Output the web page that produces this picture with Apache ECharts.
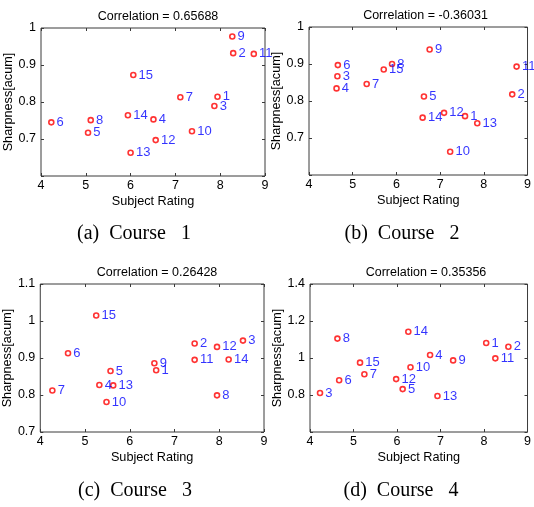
<!DOCTYPE html>
<html>
<head>
<meta charset="utf-8">
<script src="https://cdn.jsdelivr.net/npm/echarts@6/dist/echarts.min.js"></script>
<style>html,body{margin:0;padding:0;background:#fff;}#c{width:534px;height:507px;}</style>
</head>
<body>
<div id="c"></div>
<script>
// Point ids (same order for each course's x/y arrays)
var c1Ids = [9, 2, 11, 15, 7, 1, 3, 6, 8, 14, 4, 5, 10, 12, 13];
var c1X = [8.27, 8.29, 8.75, 6.06, 7.11, 7.94, 7.87, 4.23, 5.11, 5.94, 6.51, 5.05, 7.37, 6.56, 6.00];
var c1Y = [0.977, 0.932, 0.930, 0.873, 0.813, 0.814, 0.789, 0.745, 0.751, 0.764, 0.753, 0.717, 0.721, 0.697, 0.663];

var c2Ids = [9, 6, 3, 4, 8, 15, 7, 11, 2, 5, 12, 1, 13, 14, 10];
var c2X = [6.76, 4.66, 4.65, 4.63, 5.90, 5.71, 5.32, 8.75, 8.65, 6.63, 7.09, 7.57, 7.85, 6.60, 7.23];
var c2Y = [0.939, 0.897, 0.867, 0.834, 0.900, 0.885, 0.846, 0.893, 0.818, 0.812, 0.768, 0.759, 0.740, 0.755, 0.663];

var c3Ids = [15, 6, 7, 5, 4, 13, 10, 9, 1, 2, 11, 12, 3, 14, 8];
var c3X = [5.25, 4.62, 4.27, 5.57, 5.32, 5.63, 5.48, 6.55, 6.59, 7.45, 7.45, 7.95, 8.53, 8.21, 7.95];
var c3Y = [1.015, 0.913, 0.812, 0.865, 0.827, 0.826, 0.781, 0.886, 0.867, 0.939, 0.895, 0.930, 0.947, 0.896, 0.799];

var c4Ids = [14, 8, 1, 2, 11, 4, 9, 15, 10, 7, 6, 12, 5, 3, 13];
var c4X = [6.26, 4.63, 8.05, 8.56, 8.26, 6.76, 7.29, 5.15, 6.31, 5.25, 4.67, 5.98, 6.13, 4.23, 6.93];
var c4Y = [1.142, 1.105, 1.081, 1.061, 0.998, 1.016, 0.987, 0.975, 0.950, 0.912, 0.880, 0.886, 0.832, 0.811, 0.795];

var titles = ['Correlation = 0.65688', 'Correlation = -0.36031', 'Correlation = 0.26428', 'Correlation = 0.35356'];
var captions = ['(a)  Course   1', '(b)  Course   2', '(c)  Course   3', '(d)  Course   4'];

var xTicks = {min: 4, max: 9, interval: 1};
var yRanges = [
  {min: 0.6, max: 1.0, interval: 0.1, hideMin: true},
  {min: 0.6, max: 1.0, interval: 0.1, hideMin: true},
  {min: 0.7, max: 1.1, interval: 0.1, hideMin: false},
  {min: 0.6, max: 1.4, interval: 0.2, hideMin: true}
];

var courses = [
  {ids: c1Ids, x: c1X, y: c1Y},
  {ids: c2Ids, x: c2X, y: c2Y},
  {ids: c3Ids, x: c3X, y: c3Y},
  {ids: c4Ids, x: c4X, y: c4Y}
];

var grids = [
  {left: 41, top: 28, width: 224, height: 148},
  {left: 309, top: 27, width: 223, height: 148},
  {left: 40, top: 284, width: 224, height: 148},
  {left: 310, top: 284, width: 222, height: 148}
];
var captionPos = [[134, 234], [402, 234], [135, 491], [401, 491]];

var FONT = 'Liberation Sans, Arial, sans-serif';
var frameColor = '#3a3a3a';

function fmtY(v, r) {
  if (r.hideMin && Math.abs(v - r.min) < 1e-9) return '';
  return (Math.round(v * 10) / 10).toString();
}

var option = {
  animation: false,
  backgroundColor: '#fff',
  title: [], grid: [], xAxis: [], yAxis: [], series: [], graphic: []
};

grids.forEach(function (g, i) {
  var r = yRanges[i];
  option.grid.push({left: g.left, top: g.top, width: g.width, height: g.height,
    show: true, borderColor: frameColor, borderWidth: 1, backgroundColor: '#fff'});
  option.title.push({text: titles[i], left: g.left + g.width / 2, textAlign: 'center', top: g.top - 23,
    textStyle: {fontFamily: FONT, fontSize: 12.5, fontWeight: 'normal', color: '#000'}});
  option.xAxis.push({type: 'value', gridIndex: i, min: xTicks.min, max: xTicks.max, interval: xTicks.interval,
    position: 'bottom', name: 'Subject Rating', nameLocation: 'middle', nameGap: 19,
    nameTextStyle: {fontFamily: FONT, fontSize: 12.7, color: '#000'},
    axisLine: {show: false}, splitLine: {show: false},
    axisTick: {show: true, inside: true, length: 3, lineStyle: {color: frameColor}},
    axisLabel: {fontFamily: FONT, fontSize: 12.5, color: '#000', margin: 3}});
  option.xAxis.push({type: 'value', gridIndex: i, min: xTicks.min, max: xTicks.max, interval: xTicks.interval,
    position: 'top', axisLine: {show: false}, splitLine: {show: false},
    axisTick: {show: true, inside: true, length: 3, lineStyle: {color: frameColor}},
    axisLabel: {show: false}});
  option.yAxis.push({type: 'value', gridIndex: i, min: r.min, max: r.max, interval: r.interval,
    position: 'left', name: 'Sharpness[acum]', nameLocation: 'middle', nameGap: 23,
    nameTextStyle: {fontFamily: FONT, fontSize: 12.7, color: '#000'},
    axisLine: {show: false}, splitLine: {show: false},
    axisTick: {show: true, inside: true, length: 3, lineStyle: {color: frameColor}},
    axisLabel: {fontFamily: FONT, fontSize: 12.5, color: '#000', margin: 5,
      formatter: (function (rr) { return function (v) { return fmtY(v, rr); }; })(r)}});
  option.yAxis.push({type: 'value', gridIndex: i, min: r.min, max: r.max, interval: r.interval,
    position: 'right', axisLine: {show: false}, splitLine: {show: false},
    axisTick: {show: true, inside: true, length: 3, lineStyle: {color: frameColor}},
    axisLabel: {show: false}});

  var c = courses[i];
  var data = c.x.map(function (xv, k) { return {value: [xv, c.y[k]], name: String(c.ids[k])}; });
  option.series.push({type: 'scatter', xAxisIndex: i * 2, yAxisIndex: i * 2, data: data,
    symbol: 'circle', symbolSize: 5,
    itemStyle: {color: '#fff', borderColor: '#ff0000', borderWidth: 1.6},
    label: {show: true, position: 'right', distance: 2, formatter: '{b}',
      fontFamily: FONT, fontSize: 13, color: '#0000ff'},
    emphasis: {disabled: true}});

  option.graphic.push({type: 'text', x: captionPos[i][0], y: captionPos[i][1],
    style: {text: captions[i], fontFamily: 'Liberation Serif, Times New Roman, serif', fontSize: 20,
      fill: '#000', align: 'center', verticalAlign: 'middle'}});
});

var chart = echarts.init(document.getElementById('c'), null, {renderer: 'canvas'});
chart.setOption(option);
</script>
</body>
</html>
